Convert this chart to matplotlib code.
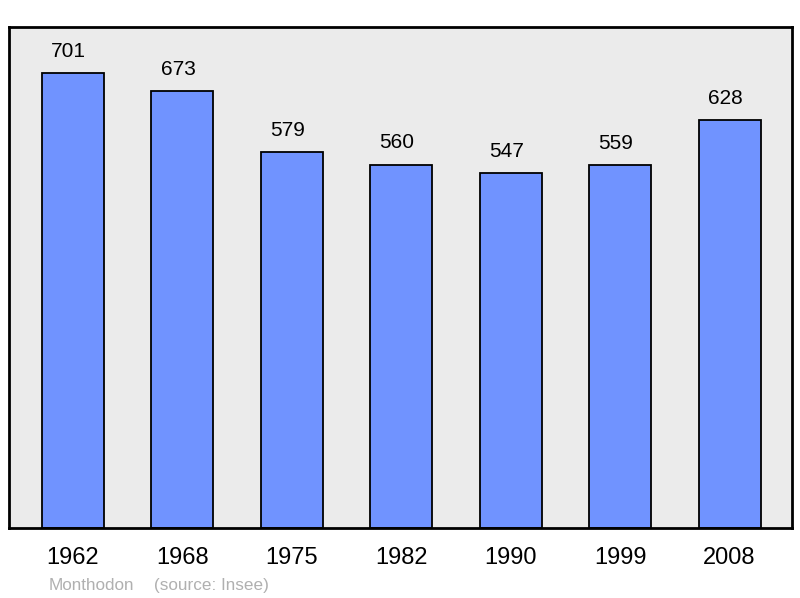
import matplotlib.pyplot as plt

years = ["1962", "1968", "1975", "1982", "1990", "1999", "2008"]
population = [701, 673, 579, 560, 547, 559, 628]

plt.rcParams['font.family'] = ['Liberation Sans', 'DejaVu Sans']

fig = plt.figure(figsize=(8, 5.98), dpi=100)
ax = fig.add_axes([9 / 800, 70 / 598, 783 / 800, 501 / 598])
ax.set_facecolor('#ebebeb')

x = range(len(years))
ax.bar(x, population, width=0.567, color='#7093ff', edgecolor='black', linewidth=1.3, zorder=2)
for i, v in zip(x, population):
    ax.annotate(str(v), (i, v), xytext=(-3, 9), textcoords='offset points',
                ha='center', va='bottom', fontsize=15)

ax.set_xlim(-0.585, 6.57)
ax.set_ylim(0, 772)
ax.set_yticks([])
ax.set_xticks(list(x))
ax.set_xticklabels(years, fontsize=17)
ax.tick_params(axis='x', length=0, pad=14)
for s in ax.spines.values():
    s.set_linewidth(2)

# source line under the chart
fig.text(49 / 800, 1 - 590 / 598, "Monthodon", color='#b0b0b0',
         fontsize=12.3, va='baseline', ha='left')
fig.text(154 / 800, 1 - 590 / 598, "(source: Insee)", color='#b0b0b0',
         fontsize=12.3, va='baseline', ha='left')

fig.savefig('out.png', dpi=100)
